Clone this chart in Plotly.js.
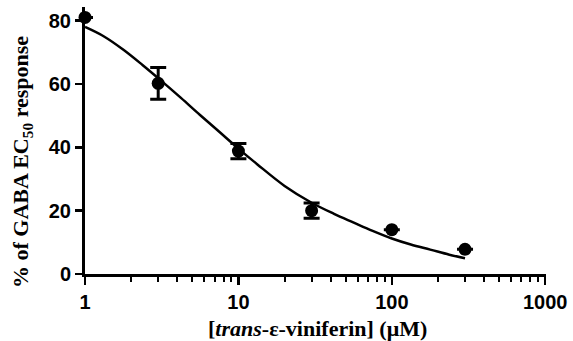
<!DOCTYPE html>
<html>
<head>
<meta charset="utf-8">
<script src="https://cdn.plot.ly/plotly-3.0.1.min.js"></script>
<style>html,body{margin:0;padding:0;background:#fff;}#chart{width:573px;height:341px;}</style>
</head>
<body>
<div id="chart"></div>
<script>
// Measured data points (concentration in µM, % of GABA EC50 response, SEM)
const concentrations = [1, 3, 10, 30, 100, 300];
const responses = [81, 60.2, 38.8, 20, 14, 7.8];
const sem = [null, 5, 2.4, 2.4, null, null];

// Fitted curve
const fitX = [1, 1.33, 1.78, 2.37, 3.16, 4.22, 5.62, 7.5, 10, 13.3, 20, 30, 42, 56, 75, 100, 133, 178, 237, 300];
const fitY = [78, 75, 70.8, 66, 60.9, 55.6, 50.2, 44.9, 39.6, 34.6, 27.8, 22.5, 19, 16.3, 13.6, 11.2, 9.3, 7.7, 6.1, 5];

const xTickVals = [1, 10, 100, 1000];
const xTickText = ['1', '10', '100', '1000'];
const yTickVals = [0, 20, 40, 60, 80];
const yTickText = ['0', '20', '40', '60', '80'];

const bold = s => '<b>' + s + '</b>';

const traces = [
  {
    x: fitX, y: fitY, type: 'scatter', mode: 'lines',
    line: {color: '#000', width: 2.5, shape: 'spline', smoothing: 1},
    hoverinfo: 'skip', cliponaxis: false
  },
  {
    x: concentrations, y: responses, type: 'scatter', mode: 'markers',
    marker: {color: '#000', size: 13},
    error_y: {type: 'data', array: sem, visible: true, color: '#000', thickness: 3, width: 8},
    cliponaxis: false
  }
];

const tickFont = {family: 'Liberation Sans, Arial, sans-serif', size: 20, color: '#000', weight: 'bold'};

const layout = {
  width: 573, height: 341,
  margin: {l: 85, r: 27, t: 7, b: 67},
  paper_bgcolor: '#fff', plot_bgcolor: '#fff',
  showlegend: false,
  xaxis: {
    type: 'log', range: [0, 3.005],
    tickvals: xTickVals, ticktext: xTickText.map(bold),
    ticks: 'outside', ticklen: 8, tickwidth: 2.5, tickcolor: '#000',
    showline: true, linecolor: '#000', linewidth: 3,
    showgrid: false, zeroline: false,
    tickfont: tickFont,
    minor: {ticks: 'outside', ticklen: 5, tickwidth: 2, tickcolor: '#000', dtick: 'D1', showgrid: false}
  },
  yaxis: {
    range: [0, 84.3],
    tickvals: yTickVals, ticktext: yTickText.map(bold),
    ticks: 'outside', ticklen: 7, tickwidth: 2.5, tickcolor: '#000',
    showline: true, linecolor: '#000', linewidth: 3,
    showgrid: false, zeroline: false,
    tickfont: tickFont
  },
  annotations: [
    {
      xref: 'paper', yref: 'paper',
      x: (317 - 85) / 461, y: (274 - 328) / 267,
      xanchor: 'center', yanchor: 'middle', showarrow: false,
      text: bold('[<i>trans</i>-ε-viniferin] (μM)'),
      font: {family: 'Liberation Serif, Times New Roman, serif', size: 22, color: '#000', weight: 'bold'}
    },
    {
      xref: 'paper', yref: 'paper',
      x: (22 - 85) / 461, y: (274 - 162) / 267,
      xanchor: 'center', yanchor: 'middle', showarrow: false, textangle: -90,
      text: bold('% of GABA EC<sub>50</sub> response'),
      font: {family: 'Liberation Serif, Times New Roman, serif', size: 22, color: '#000', weight: 'bold'}
    }
  ]
};

Plotly.newPlot('chart', traces, layout, {displayModeBar: false, staticPlot: true});
</script>
</body>
</html>
